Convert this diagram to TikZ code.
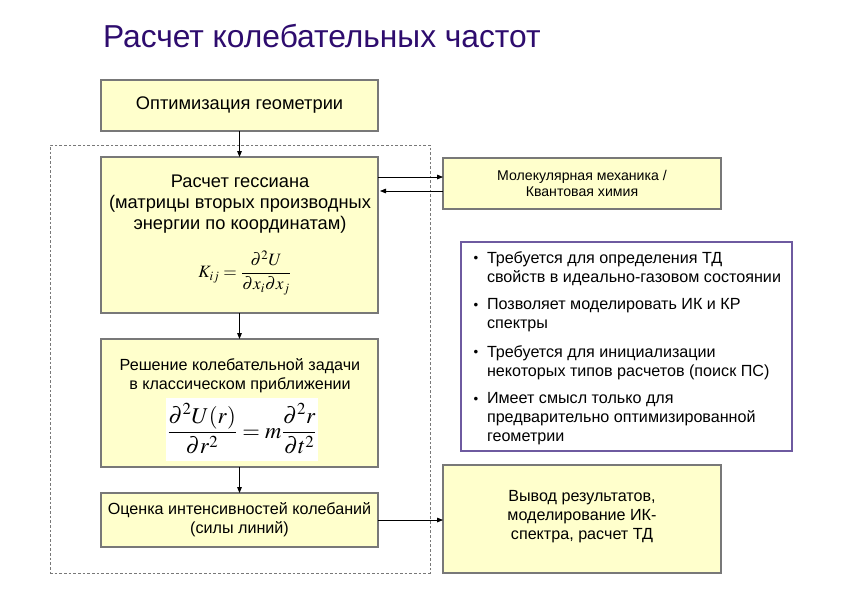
\documentclass[tikz,border=0pt]{standalone}
\usepackage{mathptmx}
\usepackage{fontspec}
\setmainfont{Liberation Sans}
\usetikzlibrary{arrows.meta}
\definecolor{boxfill}{RGB}{255,255,204}
\definecolor{boxline}{RGB}{120,120,120}
\definecolor{titlecol}{RGB}{46,12,110}
\definecolor{bulline}{RGB}{110,90,160}
\begin{document}
\begin{tikzpicture}[x=0.75pt,y=-0.75pt,
  sz/.style 2 args={minimum width=#1*0.75pt,minimum height=#2*0.75pt},
  box/.style={draw=boxline,fill=boxfill,line width=0.8pt,inner sep=0pt,outer sep=0pt,align=center},
  txt/.style={inner sep=0pt,outer sep=0pt,align=center},
  arr/.style={-{Triangle[length=4.5pt,width=3.5pt]},line width=0.6pt},
  bigf/.style={font=\fontsize{13.7}{15.8}\selectfont},
  midf/.style={font=\fontsize{12.1}{14.2}\selectfont},
  bulf/.style={font=\fontsize{12.1}{14.25}\selectfont},
  dotf/.style={font=\fontsize{10}{12}\selectfont},
  smallf/.style={font=\fontsize{10.6}{12}\selectfont}]
\fill[white] (0,0) rectangle (849,593);
\useasboundingbox (0,0) rectangle (849,593);

\node[txt,anchor=base west,text=titlecol,font=\fontsize{23.8}{27}\selectfont] (title) at (103,47) {Расчет колебательных частот};

\node[draw=boxline,dash pattern=on 2pt off 1.5pt,line width=0.6pt,sz={380}{428},inner sep=0pt] (group) at (240,359) {};

\node[box,sz={277}{51},bigf] (opt) at (239.5,105.5) {Оптимизация геометрии};

\node[box,sz={277}{156}] (hess) at (239.5,235) {};
\node[txt,bigf] (hesst) at (240,204.5) {Расчет гессиана\\(матрицы вторых производных\\энергии по координатам)};
\node[txt,font=\fontsize{13}{15.5}\selectfont] (hessf) at (245,273) {$\displaystyle K_{ij}=\frac{\partial^2U}{\partial x_i\partial x_j}$};

\node[box,sz={277}{128}] (sol) at (239.5,403) {};
\node[txt,midf] (solt) at (240,376) {Решение колебательной задачи\\в классическом приближении};
\node[fill=white,inner sep=0pt,sz={152}{63}] (solbg) at (242,429.5) {};
\node[txt,font=\fontsize{17}{20}\selectfont] (solf) at (242,429) {$\displaystyle\frac{\partial^2U(r)}{\partial r^2}=m\frac{\partial^2 r}{\partial t^2}$};

\node[box,sz={277}{54},midf] (int) at (239.5,520) {Оценка интенсивностей колебаний\\(силы линий)};

\node[box,sz={278}{51},smallf] (mm) at (582,183.5) {Молекулярная механика /\\Квантовая химия};

\node[box,sz={278}{108}] (out) at (582,519) {};
\node[txt,midf] (outt) at (582,516.5) {Вывод результатов,\\моделирование ИК-\\спектра, расчет ТД};

\node[draw=bulline,line width=0.8pt,sz={331}{209},inner sep=0pt] (notes) at (626.5,346.5) {};
\node[txt,dotf] (b1) at (476,259) {•};
\node[txt,bulf,anchor=west,align=left] (t1) at (487,268.5) {Требуется для определения ТД\\свойств в идеально-газовом состоянии};
\node[txt,dotf] (b2) at (476,306) {•};
\node[txt,bulf,anchor=west,align=left] (t2) at (487,315.5) {Позволяет моделировать ИК и КР\\спектры};
\node[txt,dotf] (b3) at (476,353) {•};
\node[txt,bulf,anchor=west,align=left] (t3) at (487,362.5) {Требуется для инициализации\\некоторых типов расчетов (поиск ПС)};
\node[txt,dotf] (b4) at (476,400) {•};
\node[txt,bulf,anchor=west,align=left] (t4) at (487,419) {Имеет смысл только для\\предварительно оптимизированной\\геометрии};

\draw[arr] (opt.south) -- (hess.north);
\draw[arr] (hess.south) -- (sol.north);
\draw[arr] (sol.south) -- (int.north);
\draw[arr] ([yshift=-15pt]hess.north east) -- ([yshift=-15pt]hess.north east -| mm.west);
\draw[arr] ([yshift=-25.5pt]hess.north east -| mm.west) -- ([yshift=-25.5pt,xshift=1.5pt]hess.north east);
\draw[arr] (int.east) -- (int.east -| out.west);
\end{tikzpicture}
\end{document}
